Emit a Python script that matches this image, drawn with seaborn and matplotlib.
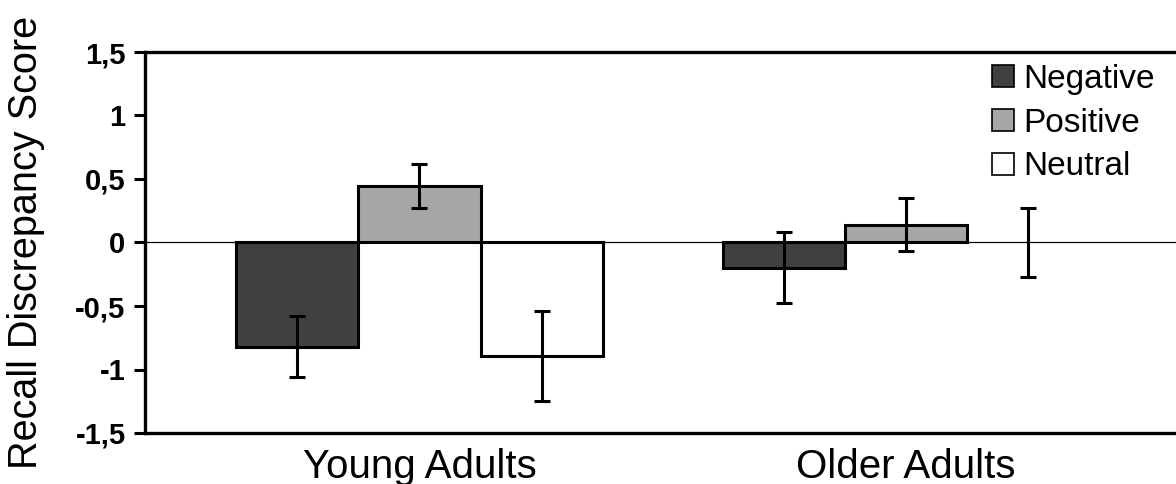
"""
Recall discrepancy score by age group and valence (bar chart with error bars).
"""

# %% Imports
import numpy as np
import pandas as pd
import seaborn as sns
from matplotlib import pyplot as plt

# %% Data
GROUPS = ["Young Adults", "Older Adults"]
VALENCES = ["Negative", "Positive", "Neutral"]
YOUNG_MEANS = [-0.82, 0.445, -0.895]
OLDER_MEANS = [-0.20, 0.14, 0.0]
YOUNG_ERRS = [0.24, 0.17, 0.355]
OLDER_ERRS = [0.28, 0.21, 0.27]
YTICKS = [-1.5, -1.0, -0.5, 0.0, 0.5, 1.0, 1.5]
YTICK_LABELS = ["-1,5", "-1", "-0,5", "0", "0,5", "1", "1,5"]
BAR_COLORS = {"Negative": "#404040", "Positive": "#a6a6a6", "Neutral": "#ffffff"}

df = pd.DataFrame(
    {
        "group": np.repeat(GROUPS, len(VALENCES)),
        "valence": VALENCES * len(GROUPS),
        "score": YOUNG_MEANS + OLDER_MEANS,
        "err": YOUNG_ERRS + OLDER_ERRS,
    }
)

# %% Plot
sns.set_style("white")
plt.rcParams["font.family"] = ["Liberation Sans", "DejaVu Sans"]
plt.rcParams["text.color"] = "black"
plt.rcParams["axes.labelcolor"] = "black"
plt.rcParams["xtick.color"] = "black"
plt.rcParams["ytick.color"] = "black"

fig = plt.figure(figsize=(11.76, 4.84), dpi=100)
ax = fig.add_axes([145 / 1176, 1 - 433 / 484, 1 - 145 / 1176, (433 - 52) / 484])

ax.axhline(0, color="black", lw=0.9, zorder=0)
sns.barplot(
    df,
    x="group",
    y="score",
    hue="valence",
    order=GROUPS,
    hue_order=VALENCES,
    palette=BAR_COLORS,
    edgecolor="black",
    linewidth=2.2,
    width=0.754,
    errorbar=None,
    saturation=1,
    ax=ax,
)

# error bars placed at the centres of the drawn bars
for container, valence in zip(ax.containers, VALENCES):
    for bar in container:
        xc = bar.get_x() + bar.get_width() / 2
        group = GROUPS[int(round(xc))]
        row = df[(df.group == group) & (df.valence == valence)].iloc[0]
        if row.score == 0:
            bar.set_linewidth(0)
        ax.errorbar(xc, row.score, yerr=row.err, fmt="none", ecolor="black",
                    elinewidth=2.2, capsize=5.5, capthick=2.2, zorder=5)

ax.set_ylim(-1.5, 1.5)
ax.set_xlim(-0.564, 1.555)
ax.set_yticks(YTICKS)
ax.set_yticklabels(YTICK_LABELS, fontsize=21, fontweight="bold")
ax.tick_params(axis="y", direction="out", length=8, width=2.2, left=True, pad=6)
ax.tick_params(axis="x", length=0, labelsize=29, pad=11)
ax.set_xlabel("")
ax.set_ylabel("Recall Discrepancy Score", fontsize=28.5, labelpad=22)
for side in ["left", "top", "bottom"]:
    ax.spines[side].set_linewidth(2.4)
    ax.spines[side].set_color("black")
ax.spines["right"].set_visible(False)

leg = ax.legend(
    loc="upper left",
    bbox_to_anchor=(992 / 1176, 1 - 64 / 484),
    bbox_transform=fig.transFigure,
    frameon=False,
    fontsize=24,
    handlelength=0.65,
    handleheight=0.65,
    handletextpad=0.3,
    labelspacing=0.38,
    borderpad=0,
    borderaxespad=0,
)
for handle in leg.legend_handles:
    handle.set_linewidth(1.2)

fig.savefig("out.png", dpi=100)
